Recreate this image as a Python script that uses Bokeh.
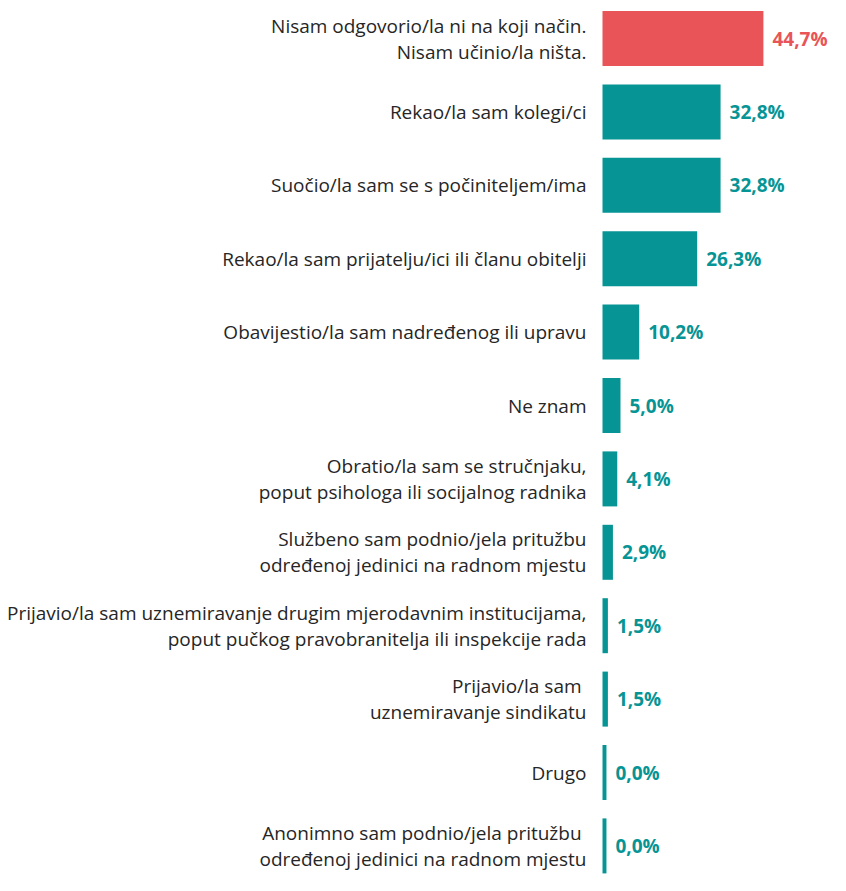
from bokeh.plotting import figure
from bokeh.models import ColumnDataSource, Range1d
from bokeh.core.properties import value
from bokeh.embed import file_html
from bokeh.resources import INLINE
import numpy as np

categories = [
    "Nisam odgovorio/la ni na koji način.\nNisam učinio/la ništa.",
    "Rekao/la sam kolegi/ci",
    "Suočio/la sam se s počiniteljem/ima",
    "Rekao/la sam prijatelju/ici ili članu obitelji",
    "Obavijestio/la sam nadređenog ili upravu",
    "Ne znam",
    "Obratio/la sam se stručnjaku,\npoput psihologa ili socijalnog radnika",
    "Službeno sam podnio/jela pritužbu\nodređenoj jedinici na radnom mjestu",
    "Prijavio/la sam uznemiravanje drugim mjerodavnim institucijama,\npoput pučkog pravobranitelja ili inspekcije rada",
    "Prijavio/la sam \nuznemiravanje sindikatu",
    "Drugo",
    "Anonimno sam podnio/jela pritužbu \nodređenoj jedinici na radnom mjestu",
]
values = [44.7, 32.8, 32.8, 26.3, 10.2, 5.0, 4.1, 2.9, 1.5, 1.5, 0.0, 0.0]
highlight = [True] + [False] * 11

RED = "#E85457"
TEAL = "#079494"
W, H = 830, 875
PX_PER_PCT = 3.6
ZERO_X = 602
ROW_PX = 73.4
FIRST_ROW_Y = 38
BAR_PX = 55
MIN_BAR = 1.1  # minimum visible bar width (style)

n = len(categories)
ys = [-i for i in range(n)]
vals = np.array(values)
src = ColumnDataSource(dict(
    y=ys,
    cat=categories,
    right=np.maximum(vals, MIN_BAR),
    lab=[f"{v:.1f}".replace(".", ",") + "%" for v in values],
    color=[RED if h else TEAL for h in highlight],
))

y_end = FIRST_ROW_Y / ROW_PX
y_start = y_end - H / ROW_PX
x_start = -ZERO_X / PX_PER_PCT
x_end = (W - ZERO_X) / PX_PER_PCT

p = figure(width=W, height=H, output_backend="svg", toolbar_location=None,
           x_range=Range1d(x_start, x_end), y_range=Range1d(y_start, y_end),
           min_border=0, outline_line_color=None)
p.axis.visible = False
p.grid.visible = False
p.background_fill_color = "white"
p.border_fill_color = "white"

p.hbar(y="y", left=0, right="right", height=BAR_PX / ROW_PX, fill_color="color",
       line_color=None, source=src)

p.text(x=0, y="y", text="cat", x_offset=-16, text_align="right",
       text_baseline="middle", text_font=value("Open Sans"),
       text_font_size="19px", text_color="#262626", text_line_height=1.0,
       source=src)

p.text(x="right", y="y", text="lab", x_offset=9, text_align="left",
       text_baseline="middle", text_font=value("Open Sans"),
       text_font_style="bold", text_font_size="19px", text_color="color",
       source=src)

open("out.html", "w").write(file_html(p, INLINE))
